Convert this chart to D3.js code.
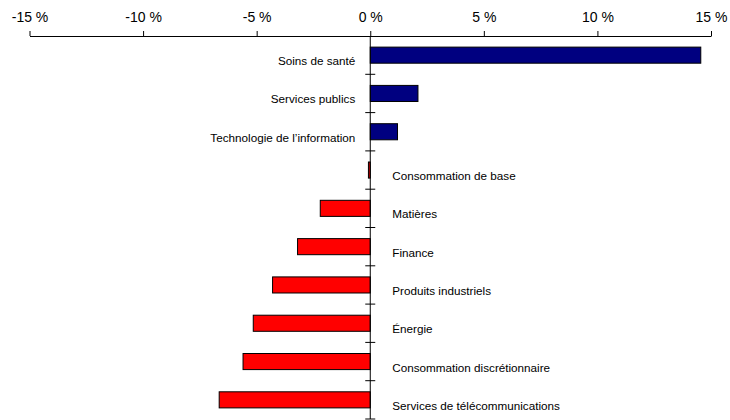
<!DOCTYPE html>
<html>
<head>
<meta charset="utf-8">
<script src="https://cdn.jsdelivr.net/npm/d3@7"></script>
<style>
  body { margin: 0; background: #fff; }
  svg { display: block; }
  text { font-family: "Liberation Sans", Arial, sans-serif; fill: #000; }
</style>
</head>
<body>
<svg width="730" height="420"></svg>
<script>
var width = 730;
var height = 420;

// data
var categories = [
    "Soins de santé",
    "Services publics",
    "Technologie de l’information",
    "Consommation de base",
    "Matières",
    "Finance",
    "Produits industriels",
    "Énergie",
    "Consommation discrétionnaire",
    "Services de télécommunications"
];
var values = [14.55, 2.1, 1.2, -0.08, -2.2, -3.2, -4.3, -5.15, -5.6, -6.65];
var xTicks = [-15, -10, -5, 0, 5, 10, 15];

var svg = d3.select("svg");

//----------------------------------------------------------------------------
// scales
//----------------------------------------------------------------------------
var x = d3.scaleLinear()
    .domain([-15, 15])
    .range([29.5, 711]);

var y = d3.scaleBand()
    .domain(categories)
    .range([36, 419])
    .paddingInner(0.58)
    .paddingOuter(0.29);

var rows = categories.map((c, i) => ({ name: c, value: values[i] }));

//----------------------------------------------------------------------------
// top axis
//----------------------------------------------------------------------------
var xAxis = d3.axisTop(x)
    .tickValues(xTicks)
    .tickSize(5)
    .tickSizeOuter(0)
    .tickPadding(9)
    .tickFormat(d => d + " %");

var gx = svg.append("g")
    .attr("transform", "translate(0," + 36 + ")")
    .call(xAxis);
gx.selectAll("text")
    .style("font-size", "14px")
    .style("font-family", "'Liberation Sans', Arial, sans-serif")
    .attr("fill", "#000");
gx.selectAll("line, path").attr("stroke", "#000");

//----------------------------------------------------------------------------
// bars
//----------------------------------------------------------------------------
svg.append("g")
    .selectAll("rect")
    .data(rows)
    .join("rect")
    .attr("x", d => x(Math.min(0, d.value)))
    .attr("y", d => y(d.name))
    .attr("width", d => Math.abs(x(d.value) - x(0)))
    .attr("height", y.bandwidth())
    .attr("fill", d => d.value >= 0 ? "#000080" : "#ff0000")
    .attr("stroke", "#000")
    .attr("stroke-width", 1);

//----------------------------------------------------------------------------
// vertical zero axis with category separators
//----------------------------------------------------------------------------
var x0 = x(0);
var gy = svg.append("g");
gy.append("line")
    .attr("x1", x0).attr("x2", x0)
    .attr("y1", y.range()[0]).attr("y2", y.range()[1])
    .attr("stroke", "#000");
gy.selectAll("line.sep")
    .data(categories)
    .join("line")
    .attr("class", "sep")
    .attr("x1", x0 - 5).attr("x2", x0 + 5)
    .attr("y1", d => y(d) + y.bandwidth() / 2 + y.step() / 2)
    .attr("y2", d => y(d) + y.bandwidth() / 2 + y.step() / 2)
    .attr("stroke", "#000");

//----------------------------------------------------------------------------
// labels
//----------------------------------------------------------------------------
svg.append("g")
    .selectAll("text")
    .data(rows)
    .join("text")
    .attr("x", d => d.value >= 0 ? x0 - 15 : x0 + 22)
    .attr("y", d => y(d.name) + y.bandwidth() / 2 + 10)
    .attr("text-anchor", d => d.value >= 0 ? "end" : "start")
    .style("font-size", "11.7px")
    .text(d => d.name);
</script>
</body>
</html>
